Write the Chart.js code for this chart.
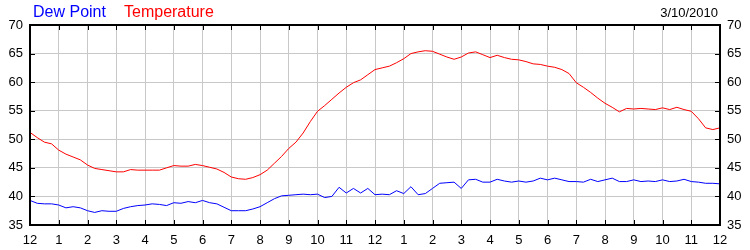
<!DOCTYPE html>
<html lang="en">
<head>
<meta charset="UTF-8" />
<title>Dew Point / Temperature</title>
<script src="https://cdn.jsdelivr.net/npm/chart.js"></script>
<style>
  html, body { margin: 0; padding: 0; background: #fff; }
  #chart { display: block; }
</style>
</head>
<body>
<canvas id="chart" width="750" height="250"></canvas>
<script>
  const dateLabel = '3/10/2010';
  const hourLabels = ['12','1','2','3','4','5','6','7','8','9','10','11','12','1','2','3','4','5','6','7','8','9','10','11','12'];
  const minutesPerReading = 15;

  // one reading every 15 minutes, midnight to midnight
  const temperature = [
    51.2, 50.3, 49.5, 49.2, 48.1, 47.4, 46.9, 46.4, 45.5, 44.9, 44.7, 44.5,
    44.3, 44.3, 44.7, 44.6, 44.6, 44.6, 44.6, 45.0, 45.4, 45.3, 45.3, 45.6,
    45.4, 45.1, 44.8, 44.2, 43.4, 43.1, 43.0, 43.3, 43.8, 44.6, 45.8, 47.0,
    48.4, 49.5, 51.1, 53.1, 54.9, 55.9, 57.0, 58.1, 59.1, 59.9, 60.4, 61.3,
    62.2, 62.5, 62.8, 63.4, 64.1, 65.0, 65.3, 65.5, 65.4, 64.9, 64.4, 64.0,
    64.4, 65.1, 65.3, 64.8, 64.3, 64.7, 64.3, 64.0, 63.9, 63.6, 63.2, 63.1,
    62.8, 62.6, 62.2, 61.5, 59.9, 59.1, 58.2, 57.2, 56.3, 55.6, 54.8, 55.4,
    55.3, 55.4, 55.3, 55.2, 55.5, 55.2, 55.6, 55.2, 54.9, 53.6, 52.0, 51.7,
    52.0
  ];
  const dewPoint = [
    39.3, 38.8, 38.7, 38.7, 38.5, 38.0, 38.2, 38.0, 37.5, 37.2, 37.5, 37.4,
    37.4, 37.9, 38.2, 38.4, 38.5, 38.7, 38.6, 38.4, 38.9, 38.8, 39.1, 38.9,
    39.3, 38.9, 38.7, 38.1, 37.5, 37.5, 37.5, 37.8, 38.2, 38.9, 39.6, 40.1,
    40.2, 40.3, 40.4, 40.3, 40.4, 39.8, 40.0, 41.6, 40.6, 41.4, 40.6, 41.4,
    40.3, 40.4, 40.3, 41.0, 40.5, 41.7, 40.3, 40.5, 41.4, 42.3, 42.4, 42.5,
    41.4, 42.9, 43.0, 42.5, 42.5, 43.0, 42.7, 42.5, 42.7, 42.5, 42.7, 43.2,
    42.9, 43.2, 42.9, 42.6, 42.6, 42.5, 43.0, 42.6, 42.9, 43.2, 42.6, 42.6,
    42.9, 42.6, 42.7, 42.6, 42.9, 42.6, 42.7, 43.0, 42.6, 42.5, 42.3, 42.3,
    42.2
  ];

  const toPoints = arr => arr.map((v, i) => ({ x: i * minutesPerReading / 60, y: v }));

  const gridColor = '#c8c8c8';
  const tickFont = { family: '"Liberation Sans", Arial, sans-serif', size: 13 };

  // frame, inward tick marks and header text
  const framePlugin = {
    id: 'frame',
    afterDraw(chart) {
      const { ctx, chartArea: a, scales } = chart;
      ctx.save();
      ctx.strokeStyle = '#000';
      ctx.lineWidth = 1;
      ctx.beginPath();
      scales.x.ticks.forEach((t, i) => {
        const x = Math.round(scales.x.getPixelForTick(i)) + 0.5;
        ctx.moveTo(x, a.top); ctx.lineTo(x, a.top + 5);
        ctx.moveTo(x, a.bottom); ctx.lineTo(x, a.bottom - 5);
      });
      scales.y.ticks.forEach((t, i) => {
        const y = Math.round(scales.y.getPixelForTick(i)) + 0.5;
        ctx.moveTo(a.left, y); ctx.lineTo(a.left + 5, y);
        ctx.moveTo(a.right, y); ctx.lineTo(a.right - 5, y);
      });
      ctx.stroke();
      ctx.lineWidth = 2;
      ctx.strokeRect(a.left, a.top, a.right - a.left, a.bottom - a.top);

      ctx.textBaseline = 'alphabetic';
      ctx.font = '16px "Liberation Sans", Arial, sans-serif';
      ctx.textAlign = 'left';
      ctx.fillStyle = '#0000ff';
      ctx.fillText('Dew Point', 33, 17);
      ctx.fillStyle = '#ff0000';
      ctx.fillText('Temperature', 124, 17);
      ctx.font = '13px "Liberation Sans", Arial, sans-serif';
      ctx.textAlign = 'right';
      ctx.fillStyle = '#000';
      ctx.fillText(dateLabel, 718, 17);
      ctx.restore();
    }
  };

  new Chart(document.getElementById('chart').getContext('2d'), {
    type: 'line',
    data: {
      datasets: [
        {
          label: 'Temperature',
          data: toPoints(temperature),
          borderColor: '#ff0000',
          borderWidth: 1,
          pointRadius: 0,
          tension: 0,
          fill: false
        },
        {
          label: 'Dew Point',
          data: toPoints(dewPoint),
          borderColor: '#0000ff',
          borderWidth: 1,
          pointRadius: 0,
          tension: 0,
          fill: false
        }
      ]
    },
    options: {
      responsive: false,
      animation: false,
      devicePixelRatio: 1,
      layout: { padding: { top: 25, left: 0, right: 0, bottom: 0 } },
      plugins: { legend: { display: false }, tooltip: { enabled: false } },
      scales: {
        x: {
          type: 'linear',
          min: 0,
          max: 24,
          afterFit: s => { s.height = 25; },
          grid: { color: gridColor, drawTicks: false },
          border: { display: false },
          ticks: {
            stepSize: 1,
            autoSkip: false,
            maxRotation: 0,
            padding: 8,
            color: '#000',
            font: tickFont,
            callback: (v, i) => hourLabels[i]
          }
        },
        y: {
          position: 'left',
          min: 35,
          max: 70,
          afterFit: s => { s.width = 30; },
          grid: { color: gridColor, drawTicks: false },
          border: { display: false },
          ticks: { stepSize: 5, padding: 7, color: '#000', font: tickFont }
        },
        y2: {
          position: 'right',
          min: 35,
          max: 70,
          afterFit: s => { s.width = 30; },
          grid: { display: false, drawTicks: false },
          border: { display: false },
          ticks: { stepSize: 5, padding: 7, color: '#000', font: tickFont }
        }
      }
    },
    plugins: [framePlugin]
  });
</script>
</body>
</html>
